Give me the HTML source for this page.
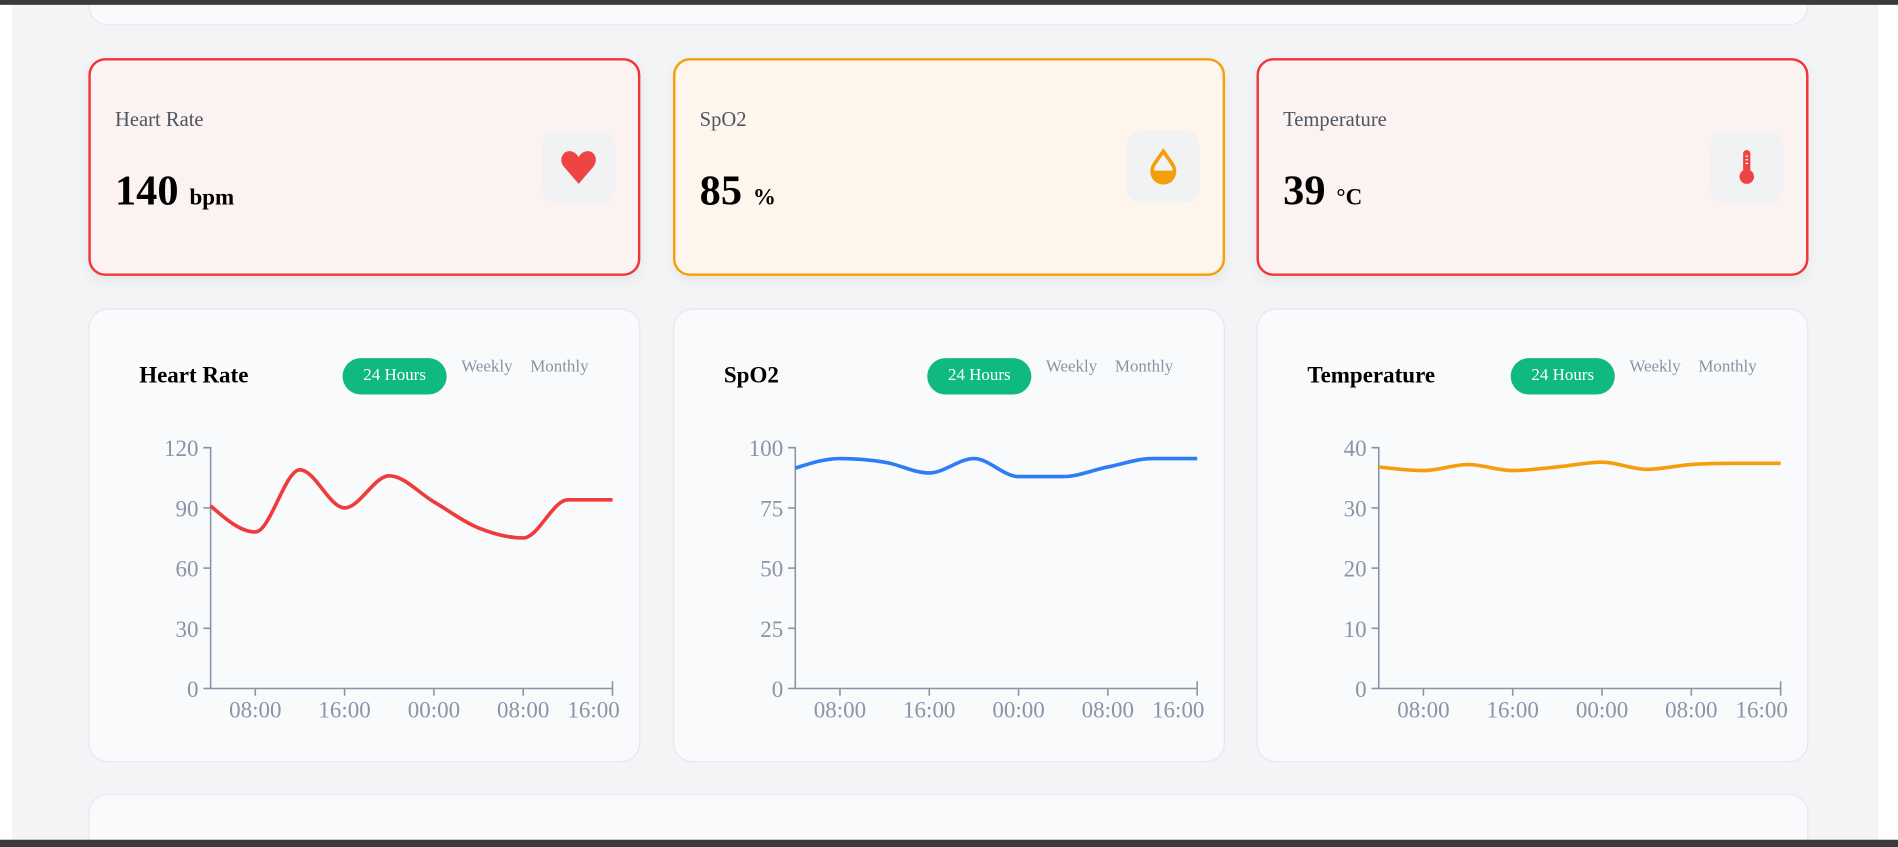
<!DOCTYPE html>
<html><head><meta charset="utf-8">
<style>
html,body{margin:0;padding:0;width:1898px;height:847px;overflow:hidden;background:#fff;font-family:"Liberation Serif",serif;}
#stage{position:absolute;left:0;top:0;width:1568px;height:700px;overflow:hidden;transform:scale(1.2105,1.21);transform-origin:0 0;}
.abs{position:absolute;}
.bg{left:10px;top:0;width:1542px;height:700px;background:#f3f4f6;}
.bar{left:0;width:1568px;background:#3a3a3a;z-index:10;}
.card{position:absolute;box-sizing:border-box;border-radius:16px;background:#f8fafc;border:1px solid #e6e8ec;}
.stat{position:absolute;box-sizing:border-box;border-radius:14px;border:2px solid #ef3535;background:#fdf2f2;box-shadow:0 4px 10px rgba(0,0,0,0.06);width:456px;height:180px;top:48px;}
.stat .lbl{position:absolute;left:20px;top:39px;font-size:17px;color:#4b5563;}
.stat .val{position:absolute;left:20px;top:88px;font-size:35px;font-weight:bold;color:#000;}
.stat .val span{font-size:19px;margin-left:9px;}
.stat .ic{position:absolute;left:373px;top:58px;width:60px;height:60px;border-radius:12px;background:#f1f2f4;}
.chartcard{top:255px;width:456px;height:375px;}
.ttl{position:absolute;left:41px;top:44px;font-size:19px;font-weight:bold;color:#000;}
.pill{position:absolute;left:209px;top:40px;width:86px;height:30px;border-radius:15px;background:#10b981;color:#fff;font-size:14px;line-height:30px;text-align:center;}
.opt{position:absolute;top:40px;font-size:14px;color:#8b93a1;}
svg.ch{position:absolute;left:0;top:0;}
</style></head><body>
<div id="stage">
<div class="abs bg"></div>
<div class="card" style="left:73px;top:0;width:1421px;height:21px;border-top:none;border-radius:0 0 16px 16px"></div>
<div class="card" style="left:73px;top:656px;width:1421px;height:44px;border-bottom:none;border-radius:16px 16px 0 0"></div>

<div class="stat" style="left:73px">
 <div class="lbl">Heart Rate</div>
 <div class="val">140<span>bpm</span></div>
 <div class="ic"><svg width="60" height="60"><path d="M30 44 L18 30 C13 24 17 16 23.5 17 C27 17.5 29 20 30 22 C31 20 33 17.5 36.5 17 C43 16 47 24 42 30 Z" fill="#ef4444"/></svg></div>
</div>
<div class="stat" style="left:556px;border-color:#f59e0b;background:#fef6ec">
 <div class="lbl">SpO2</div>
 <div class="val">85<span>%</span></div>
 <div class="ic"><svg width="60" height="60"><path d="M30 17 L23 27 C18 34 22 43 30 43 C38 43 42 34 37 27 Z" fill="none" stroke="#f59e0b" stroke-width="3"/><path d="M20 33 L40 33 C40 39 36 43 30 43 C24 43 20 39 20 33 Z" fill="#f59e0b"/></svg></div>
</div>
<div class="stat" style="left:1038px">
 <div class="lbl">Temperature</div>
 <div class="val">39<span>°C</span></div>
 <div class="ic"><svg width="60" height="60"><rect x="27" y="16" width="6" height="20" rx="3" fill="#ef4444"/><circle cx="30" cy="38" r="6" fill="#ef4444"/><path d="M29 21h2M29 24h2M29 27h2" stroke="#fff" stroke-width="1"/></svg></div>
</div>

<div class="card chartcard" style="left:73px" id="c0"></div>
<div class="card chartcard" style="left:556px" id="c1"></div>
<div class="card chartcard" style="left:1038px" id="c2"></div>
<div class="abs bar" style="top:0;height:4px"></div>
<div class="abs bar" style="top:694px;height:6px"></div>
</div>
<script>
const xHours = [4, 8, 12, 16, 20, 24, 28, 32, 36, 40];
const xTickHours = [8, 16, 24, 32, 40];
const xTickLabels = ["08:00", "16:00", "00:00", "08:00", "16:00"];
const heartRate = [91, 78, 109, 90, 106, 93, 80, 75, 94, 94];
const spo2 = [91.5, 95.5, 94, 89.5, 95.5, 88, 88, 92, 95.5, 95.5];
const temperature = [36.8, 36.2, 37.2, 36.2, 36.8, 37.6, 36.4, 37.2, 37.4, 37.4];
const hrTicks = [0, 30, 60, 90, 120];
const spo2Ticks = [0, 25, 50, 75, 100];
const tempTicks = [0, 10, 20, 30, 40];

const NS = "http://www.w3.org/2000/svg";
function mk(tag, attrs){const e=document.createElementNS(NS,tag);for(const k in attrs)e.setAttribute(k,attrs[k]);return e;}
function monotone(pts){
  const n=pts.length; if(n<2) return "";
  const dx=[],m=[],t=[];
  for(let i=0;i<n-1;i++){dx[i]=pts[i+1][0]-pts[i][0];m[i]=(pts[i+1][1]-pts[i][1])/dx[i];}
  for(let i=1;i<n-1;i++){ if(m[i-1]*m[i]<=0)t[i]=0; else {const s=(m[i-1]*dx[i]+m[i]*dx[i-1])/(dx[i-1]+dx[i]); t[i]=Math.sign(s)*Math.min(Math.abs(s),3*Math.min(Math.abs(m[i-1]),Math.abs(m[i])));}}
  t[0]=(3*m[0]-t[1])/2; t[n-1]=(3*m[n-2]-t[n-2])/2;
  let d="M"+pts[0][0]+","+pts[0][1];
  for(let i=0;i<n-1;i++){const h=dx[i]/3;d+=" C"+(pts[i][0]+h)+","+(pts[i][1]+h*t[i])+" "+(pts[i+1][0]-h)+","+(pts[i+1][1]-h*t[i+1])+" "+pts[i+1][0]+","+pts[i+1][1];}
  return d;
}
function build(id, title, values, yTicks, yMax, color, key){
  const card=document.getElementById(id);
  const t=document.createElement('div');t.className='ttl';t.textContent=title;
  
  
  card.appendChild(t);
  const p=document.createElement('div');p.className='pill';p.textContent='24 Hours';
  
  
  card.appendChild(p);
  const w=document.createElement('div');w.className='opt';w.style.left='307px';w.textContent='Weekly';
  
  
  card.appendChild(w);
  const mo=document.createElement('div');mo.className='opt';mo.style.left='364px';mo.textContent='Monthly';
  
  
  card.appendChild(mo);
  const svg=mk('svg',{class:'ch',width:456,height:375});
  
  
  card.appendChild(svg);
  const x0=100,x1=432,y0=313,y1=114;
  const xs=h=>x0+(h-4)/(40-4)*(x1-x0);
  const ys=v=>y0-v/yMax*(y0-y1);
  const axis=mk('path',{d:`M${x0-6},${y1} H${x0} V${y0} H${x1} V${y0-6}`,fill:'none',stroke:'#8a94a6','stroke-width':1.3});
  
  
  svg.appendChild(axis);
  yTicks.forEach(v=>{
    const y=ys(v);
    svg.appendChild(mk('line',{x1:x0-6,x2:x0,y1:y,y2:y,stroke:'#8a94a6','stroke-width':1.3}));
    const tx=mk('text',{x:x0-10,y:y+7,'text-anchor':'end','font-size':19,fill:'#8a94a6','font-family':'Liberation Serif, serif'});
    tx.textContent=v;
    
    
    svg.appendChild(tx);
  });
  xTickHours.forEach((h,i)=>{
    const x=xs(h);
    svg.appendChild(mk('line',{x1:x,x2:x,y1:y0,y2:y0+6,stroke:'#8a94a6','stroke-width':1.3}));
    const last=i===xTickHours.length-1;
    const tx=mk('text',{x:last?x+6:x,y:y0+24,'text-anchor':last?'end':'middle','font-size':19,fill:'#8a94a6','font-family':'Liberation Serif, serif'});
    tx.textContent=xTickLabels[i];
    
    
    svg.appendChild(tx);
  });
  const pts=values.map((v,i)=>[xs(xHours[i]),ys(v)]);
  const line=mk('path',{d:monotone(pts),fill:'none',stroke:color,'stroke-width':3});
  
  
  svg.appendChild(line);
}
build('c0','Heart Rate',heartRate,hrTicks,120,'#ef3b3b','heart-rate');
build('c1','SpO2',spo2,spo2Ticks,100,'#2f7cf6','spo2');
build('c2','Temperature',temperature,tempTicks,40,'#f59e0b','temperature');
</script>
</body></html>
